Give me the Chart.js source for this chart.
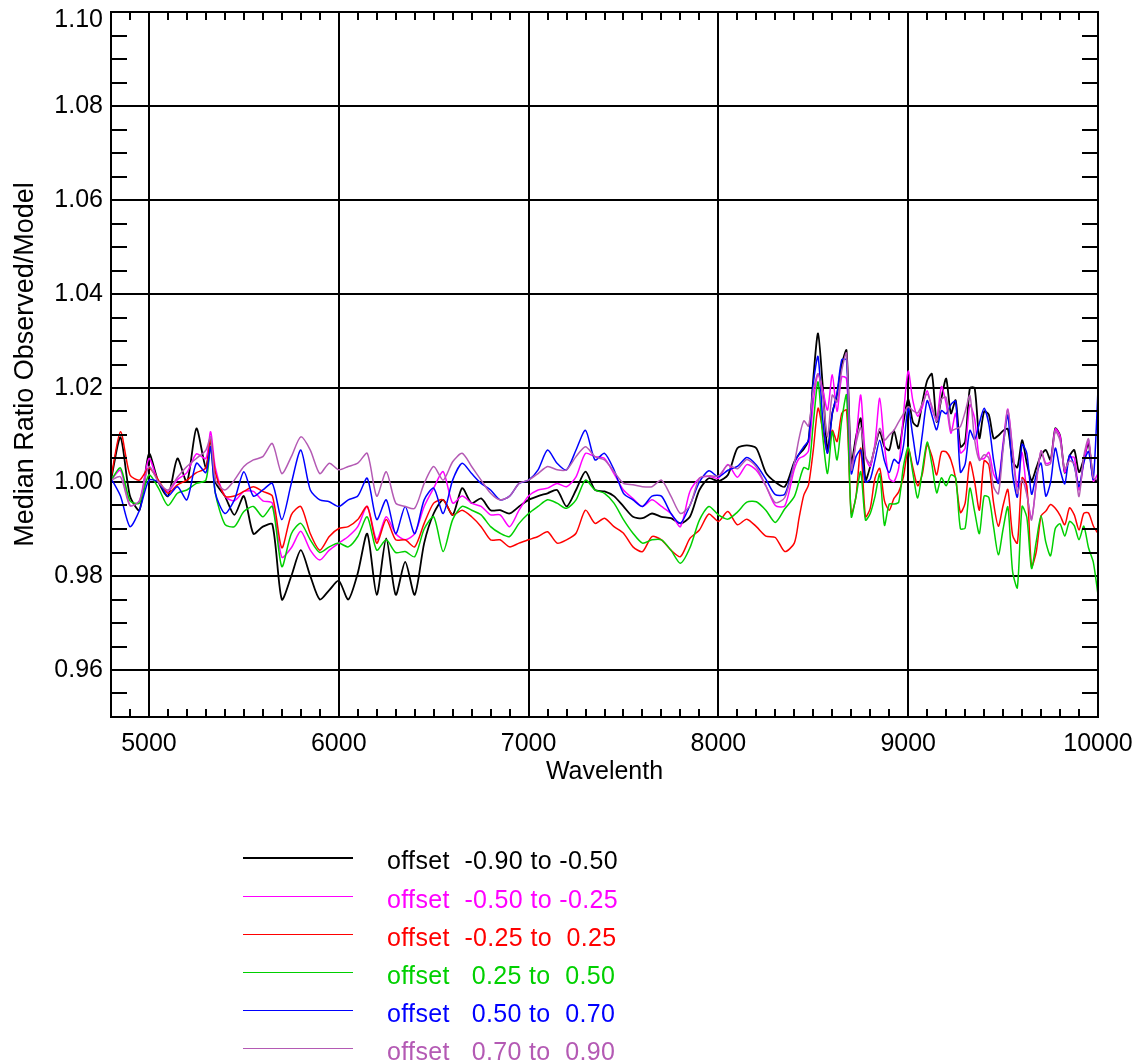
<!DOCTYPE html>
<html><head><meta charset="utf-8">
<script src="https://cdn.jsdelivr.net/npm/chart.js@4/dist/chart.umd.min.js"></script>
<style>
html,body{margin:0;padding:0;background:#fff;}
#wrap{position:relative;width:1141px;height:1063px;overflow:hidden;background:#fff;}
#c{position:absolute;left:0;top:0;}
#legend{position:absolute;left:0;top:0;width:1141px;height:1063px;font-family:"Liberation Sans",Arial,Helvetica,sans-serif;font-size:25px;}
.row{position:absolute;left:0;height:30px;width:1141px;}
.row .ln{position:absolute;left:243px;width:110px;top:14px;height:0;}
.row .tx{position:absolute;left:387px;top:2px;line-height:30px;white-space:pre;letter-spacing:0.35px;}
</style></head><body>
<div id="wrap"><canvas id="c" width="1141" height="787"></canvas><div id="legend"></div></div>
<script>
const wavelength = [
4800,4850,4900,4950,5000,5050,5100,5150,5200,5250,
5300,5325,5350,5400,5450,5500,5550,5600,5650,5700,
5750,5800,5850,5900,5950,6000,6050,6100,6150,6200,
6250,6300,6350,6400,6450,6500,6550,6600,6650,6700,
6750,6800,6850,6900,6950,7000,7050,7100,7150,7200,
7250,7300,7350,7400,7450,7500,7550,7600,7650,7700,
7750,7800,7850,7900,7950,8000,8050,8100,8150,8200,
8250,8300,8350,8400,8425,8450,8475,8500,8525,8550,
8575,8600,8625,8650,8675,8700,8725,8750,8775,8800,
8825,8850,8875,8900,8925,8950,8975,9000,9025,9050,
9075,9100,9125,9150,9175,9200,9225,9250,9275,9300,
9325,9350,9375,9400,9425,9450,9475,9500,9525,9550,
9575,9600,9625,9650,9675,9700,9725,9750,9775,9800,
9825,9850,9875,9900,9925,9950,9975,10000];

const offsetM090toM050 = [
1.0004,1.0095,0.9970,0.9940,1.0060,1.0000,0.9970,1.0050,1.0000,1.0114,
1.0030,1.0093,1.0000,0.9970,0.9930,0.9970,0.9890,0.9905,0.9910,0.9750,
0.9800,0.9855,0.9800,0.9750,0.9770,0.9790,0.9750,0.9806,0.9890,0.9760,
0.9880,0.9760,0.9830,0.9760,0.9870,0.9933,0.9962,0.9930,0.9987,0.9955,
0.9965,0.9940,0.9940,0.9933,0.9948,0.9962,0.9970,0.9976,0.9983,0.9948,
0.9983,1.0022,0.9983,0.9980,0.9970,0.9948,0.9926,0.9923,0.9933,0.9926,
0.9923,0.9912,0.9926,0.9983,1.0008,1.0002,1.0015,1.0072,1.0078,1.0072,
1.0020,1.0000,0.9990,1.0043,1.0059,1.0070,1.0089,1.0220,1.0316,1.0203,
1.0068,1.0146,1.0185,1.0250,1.0280,1.0040,1.0096,1.0135,1.0004,1.0033,
1.0075,1.0107,1.0075,1.0068,1.0110,1.0071,1.0127,1.0178,1.0127,1.0119,
1.0170,1.0216,1.0230,1.0128,1.0178,1.0220,1.0146,1.0174,1.0075,1.0086,
1.0200,1.0200,1.0093,1.0150,1.0143,1.0093,1.0099,1.0109,1.0113,1.0045,
1.0031,1.0089,1.0040,1.0003,1.0030,1.0057,1.0068,1.0047,1.0114,1.0099,
1.0020,1.0055,1.0068,1.0021,1.0049,1.0082,1.0008,1.0000];

const offsetM050toM025 = [
1.0004,1.0025,0.9950,0.9960,1.0050,1.0000,0.9980,1.0005,1.0020,1.0060,
1.0050,1.0107,1.0030,0.9970,0.9960,0.9980,0.9980,0.9960,0.9955,0.9840,
0.9860,0.9895,0.9855,0.9834,0.9855,0.9870,0.9884,0.9905,0.9948,0.9877,
0.9926,0.9890,0.9877,0.9890,0.9948,0.9987,1.0022,0.9955,0.9970,0.9955,
0.9948,0.9930,0.9930,0.9905,0.9940,0.9970,0.9983,0.9987,0.9997,0.9990,
1.0011,1.0061,1.0054,1.0050,1.0018,0.9983,0.9965,0.9948,0.9962,0.9948,
0.9933,0.9905,0.9980,1.0008,1.0012,1.0008,1.0037,1.0010,1.0037,1.0025,
0.9992,0.9950,0.9949,1.0027,1.0050,1.0055,1.0067,1.0170,1.0230,1.0196,
1.0153,1.0228,1.0150,1.0224,1.0220,1.0026,1.0089,1.0185,1.0054,1.0033,
1.0082,1.0178,1.0077,1.0008,1.0001,1.0030,1.0143,1.0236,1.0172,1.0140,
1.0160,1.0194,1.0156,1.0133,1.0203,1.0167,1.0104,1.0146,1.0062,1.0072,
1.0164,1.0135,1.0050,1.0050,1.0063,1.0017,1.0001,1.0084,1.0155,1.0070,
0.9990,1.0063,0.9978,0.9922,0.9997,1.0066,1.0040,1.0043,1.0113,1.0098,
1.0021,1.0051,1.0052,0.9983,1.0041,1.0089,1.0002,1.0018];

const offsetM025toP025 = [
1.0008,1.0107,1.0015,1.0004,1.0030,1.0004,0.9976,0.9994,1.0004,1.0020,
1.0030,1.0090,1.0020,0.9970,0.9970,0.9980,0.9990,0.9980,0.9970,0.9860,
0.9930,0.9948,0.9890,0.9855,0.9884,0.9901,0.9905,0.9920,0.9948,0.9870,
0.9920,0.9877,0.9877,0.9862,0.9912,0.9955,0.9962,0.9930,0.9940,0.9926,
0.9905,0.9877,0.9877,0.9862,0.9870,0.9877,0.9884,0.9894,0.9870,0.9877,
0.9891,0.9940,0.9912,0.9923,0.9905,0.9891,0.9862,0.9852,0.9884,0.9877,
0.9855,0.9841,0.9880,0.9898,0.9932,0.9916,0.9937,0.9909,0.9921,0.9905,
0.9885,0.9882,0.9852,0.9870,0.9923,0.9972,0.9994,1.0068,1.0157,1.0110,
1.0061,1.0110,1.0086,1.0146,1.0153,0.9933,0.9969,1.0072,0.9926,0.9944,
1.0008,1.0029,0.9960,0.9940,0.9965,0.9979,1.0011,1.0071,1.0030,0.9992,
1.0018,1.0079,1.0055,1.0015,1.0064,1.0064,1.0047,1.0007,0.9935,0.9955,
1.0043,1.0000,0.9940,1.0045,1.0036,0.9955,0.9906,0.9950,0.9984,0.9887,
0.9870,1.0009,0.9992,0.9820,0.9852,0.9928,0.9938,0.9952,0.9944,0.9929,
0.9909,0.9945,0.9930,0.9898,0.9933,0.9934,0.9907,0.9890];

const offsetP025toP050 = [
1.0004,1.0030,0.9960,0.9955,1.0015,0.9987,0.9950,0.9976,0.9983,0.9997,
1.0004,1.0075,0.9976,0.9910,0.9905,0.9937,0.9948,0.9926,0.9948,0.9820,
0.9890,0.9912,0.9877,0.9850,0.9862,0.9870,0.9862,0.9884,0.9926,0.9855,
0.9877,0.9850,0.9852,0.9841,0.9900,0.9926,0.9852,0.9920,0.9948,0.9940,
0.9930,0.9905,0.9891,0.9884,0.9912,0.9933,0.9948,0.9962,0.9955,0.9944,
0.9962,1.0004,0.9983,0.9976,0.9955,0.9920,0.9891,0.9870,0.9877,0.9877,
0.9855,0.9827,0.9860,0.9919,0.9948,0.9930,0.9921,0.9936,0.9957,0.9958,
0.9940,0.9914,0.9943,0.9969,1.0001,1.0031,1.0027,1.0125,1.0213,1.0096,
1.0018,1.0107,1.0047,1.0132,1.0185,0.9926,0.9969,1.0022,0.9919,0.9933,
0.9969,1.0017,0.9908,0.9953,0.9953,0.9957,1.0033,1.0074,1.0018,0.9966,
1.0026,1.0085,1.0037,0.9977,1.0009,0.9992,1.0015,1.0009,0.9901,0.9902,
0.9987,0.9937,0.9890,0.9970,0.9967,0.9904,0.9845,0.9900,0.9947,0.9810,
0.9775,0.9948,0.9925,0.9816,0.9874,0.9928,0.9872,0.9843,0.9901,0.9911,
0.9885,0.9916,0.9907,0.9877,0.9906,0.9860,0.9830,0.9760];

const offsetP050toP070 = [
1.0008,0.9970,0.9905,0.9940,1.0004,1.0000,0.9970,0.9990,0.9962,1.0040,
1.0020,1.0075,0.9976,0.9933,0.9962,1.0022,0.9970,0.9983,0.9997,0.9920,
0.9997,1.0068,0.9983,0.9962,0.9958,0.9948,0.9962,0.9970,1.0008,0.9920,
0.9962,0.9890,0.9948,0.9890,0.9962,0.9987,0.9933,1.0004,1.0040,1.0018,
0.9997,0.9983,0.9962,0.9970,0.9997,1.0004,1.0026,1.0068,1.0040,1.0026,
1.0068,1.0110,1.0047,1.0061,1.0026,0.9976,0.9962,0.9948,0.9970,0.9970,
0.9933,0.9912,0.9950,1.0000,1.0024,1.0011,1.0025,1.0033,1.0052,1.0036,
1.0006,0.9973,0.9974,1.0040,1.0060,1.0075,1.0089,1.0210,1.0267,1.0132,
1.0061,1.0146,1.0189,1.0260,1.0260,1.0018,1.0054,1.0068,1.0000,1.0006,
1.0047,1.0089,1.0045,1.0020,1.0048,1.0040,1.0077,1.0158,1.0096,1.0037,
1.0103,1.0173,1.0142,1.0111,1.0152,1.0145,1.0165,1.0172,1.0021,1.0038,
1.0110,1.0090,1.0125,1.0157,1.0123,1.0046,0.9997,1.0076,1.0142,1.0018,
0.9968,1.0080,1.0061,0.9974,1.0016,1.0040,0.9970,0.9999,1.0072,1.0027,
0.9996,1.0057,1.0034,0.9990,1.0041,1.0065,1.0006,1.0196];

const offsetP070toP090 = [
1.0004,1.0011,0.9950,0.9960,1.0033,1.0000,0.9983,1.0010,1.0033,1.0050,
1.0068,1.0096,1.0004,0.9983,1.0004,1.0033,1.0047,1.0054,1.0082,1.0018,
1.0054,1.0096,1.0068,1.0018,1.0040,1.0026,1.0033,1.0040,1.0061,0.9970,
1.0022,0.9955,0.9948,0.9944,0.9997,1.0033,1.0004,1.0043,1.0061,1.0033,
1.0004,0.9976,0.9962,0.9970,0.9997,1.0004,1.0018,1.0033,1.0026,1.0026,
1.0054,1.0075,1.0054,1.0047,1.0022,0.9997,0.9994,0.9990,0.9990,1.0004,
0.9970,0.9933,0.9950,1.0008,1.0013,1.0013,1.0036,1.0028,1.0048,1.0032,
0.9992,0.9956,0.9967,1.0040,1.0093,1.0130,1.0119,1.0196,1.0230,1.0182,
1.0096,1.0185,1.0170,1.0238,1.0274,1.0026,1.0082,1.0116,1.0054,1.0040,
1.0075,1.0114,1.0089,1.0100,1.0110,1.0128,1.0145,1.0160,1.0152,1.0147,
1.0167,1.0187,1.0161,1.0129,1.0176,1.0180,1.0110,1.0113,1.0118,1.0149,
1.0184,1.0090,1.0046,1.0058,1.0051,0.9990,0.9975,1.0070,1.0154,1.0065,
0.9976,1.0006,0.9973,0.9919,1.0000,1.0066,1.0036,1.0039,1.0108,1.0088,
1.0027,1.0045,1.0038,0.9969,1.0055,1.0092,1.0009,1.0004];

const seriesLabels = [
'offset  -0.90 to -0.50',
'offset  -0.50 to -0.25',
'offset  -0.25 to  0.25',
'offset   0.25 to  0.50',
'offset   0.50 to  0.70',
'offset   0.70 to  0.90'];
const seriesValues = [offsetM090toM050, offsetM050toM025, offsetM025toP025, offsetP025toP050, offsetP050toP070, offsetP070toP090];
const seriesColors = ['#000000', '#ff00ff', '#ff0000', '#00d000', '#0000ff', '#b45ab4'];
const seriesWidths = [1.8, 1.5, 1.5, 1.5, 1.5, 1.5];

const xTickValues = [5000, 6000, 7000, 8000, 9000, 10000];
const xTickLabels = ['5000', '6000', '7000', '8000', '9000', '10000'];
const yTickValues = [0.96, 0.98, 1.00, 1.02, 1.04, 1.06, 1.08, 1.10];
const yTickLabels = ['0.96', '0.98', '1.00', '1.02', '1.04', '1.06', '1.08', '1.10'];

const FONT = "'Liberation Sans', Arial, Helvetica, sans-serif";

const datasets = seriesValues.map((vals, i) => ({
  label: seriesLabels[i],
  data: wavelength.map((w, k) => ({x: w, y: vals[k]})),
  borderColor: seriesColors[i],
  borderWidth: seriesWidths[i],
  pointRadius: 0,
  pointBorderWidth: 0,
  fill: false,
  tension: 0.25,
  order: seriesValues.length - 1 - i
}));

const frameAndMinor = {
  id: 'frameAndMinor',
  afterDraw(chart) {
    const {ctx, chartArea: a, scales: {x, y}} = chart;
    ctx.save();
    ctx.strokeStyle = '#000';
    ctx.lineWidth = 2;
    ctx.beginPath();
    for (let w = 4900; w < 10000; w += 100) {
      if (w % 1000 === 0) continue;
      const px = Math.round(x.getPixelForValue(w));
      ctx.moveTo(px, a.bottom); ctx.lineTo(px, a.bottom - 8);
      ctx.moveTo(px, a.top); ctx.lineTo(px, a.top + 8);
    }
    for (let k = 191; k < 220; k++) {
      if (k % 4 === 0) continue;
      const py = Math.round(y.getPixelForValue(k * 0.005));
      ctx.moveTo(a.left, py); ctx.lineTo(a.left + 16, py);
      ctx.moveTo(a.right, py); ctx.lineTo(a.right - 16, py);
    }
    ctx.stroke();
    ctx.strokeRect(a.left, a.top, a.right - a.left, a.bottom - a.top);
    ctx.restore();
  }
};

function zeroPad(s) { s.paddingTop = 0; s.paddingBottom = 0; s.paddingLeft = 0; s.paddingRight = 0; }
const lastY = yTickLabels.length - 1;

new Chart(document.getElementById('c'), {
  type: 'line',
  data: {datasets},
  options: {
    responsive: false,
    animation: false,
    devicePixelRatio: 1,
    layout: {autoPadding: false, padding: {left: 0, right: 43, top: 12, bottom: 0}},
    plugins: {legend: {display: false}, tooltip: {enabled: false}},
    scales: {
      x: {
        type: 'linear',
        min: 4800, max: 10000,
        afterBuildTicks: (s) => { s.ticks = xTickValues.map(v => ({value: v})); },
        afterFit: (s) => { s.height = 70; zeroPad(s); },
        ticks: {
          color: '#000', padding: 12, maxRotation: 0, autoSkip: false,
          font: {family: FONT, size: 25},
          callback: (v, i) => xTickLabels[i]
        },
        grid: {color: '#000', lineWidth: 2, drawTicks: false},
        border: {display: true, color: '#000', width: 2},
        title: {display: true, text: 'Wavelenth', color: '#000', font: {family: FONT, size: 25}, padding: {top: 2, bottom: 0}}
      },
      y: {
        type: 'linear',
        min: 0.95, max: 1.10,
        afterBuildTicks: (s) => { s.ticks = yTickValues.map(v => ({value: v})); },
        afterFit: (s) => { s.width = 111; zeroPad(s); },
        ticks: {
          color: '#000', padding: 8,
          font: (c) => (c.index === lastY ? {family: FONT, size: 25, lineHeight: 0.64} : {family: FONT, size: 25}),
          callback: (v, i) => (i === lastY ? ['', yTickLabels[i]] : yTickLabels[i])
        },
        grid: {color: '#000', lineWidth: 2, drawTicks: false},
        border: {display: true, color: '#000', width: 2},
        title: {display: true, text: 'Median Ratio Observed/Model', color: '#000', font: {family: FONT, size: 27}, padding: {top: 9, bottom: 0}}
      }
    }
  },
  plugins: [frameAndMinor]
});

const legendRowY = [857, 896, 934, 972, 1010, 1048];
const legend = document.getElementById('legend');
seriesLabels.forEach((lab, i) => {
  const row = document.createElement('div');
  row.className = 'row';
  row.style.top = (legendRowY[i] - 14) + 'px';
  const ln = document.createElement('div');
  ln.className = 'ln';
  ln.style.borderTop = (i === 0 ? 2 : 1.5) + 'px solid ' + seriesColors[i];
  const tx = document.createElement('div');
  tx.className = 'tx';
  tx.style.color = seriesColors[i];
  tx.textContent = lab;
  row.appendChild(ln); row.appendChild(tx);
  legend.appendChild(row);
});
</script>
</body></html>
